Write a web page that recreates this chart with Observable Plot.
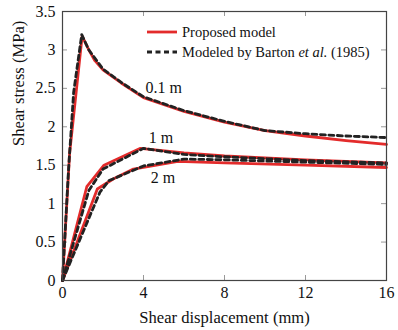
<!DOCTYPE html>
<html><head><meta charset="utf-8">
<script src="https://cdn.jsdelivr.net/npm/d3@7"></script>
<script src="https://cdn.jsdelivr.net/npm/@observablehq/plot@0.6"></script>
<style>
body{margin:0;background:#fff;}
#wrap{position:relative;width:398px;height:330px;font-family:"Liberation Serif",serif;}
.leg{position:absolute;left:147px;height:20px;line-height:20px;font-size:14.5px;color:#111;display:flex;align-items:center;white-space:nowrap;}
.leg svg{margin-right:5px;}
</style></head><body><div id="wrap"></div>
<script>
const xTicks = [0, 4, 8, 12, 16];
const yTicks = [0, 0.5, 1, 1.5, 2, 2.5, 3, 3.5];
const xLabel = "Shear displacement (mm)";
const yLabel = "Shear stress (MPa)";

// Proposed model (red, solid)
const proposed_01m = [[0,0],[0.35,1.65],[0.97,3.18],[1.3,3.0],[1.6,2.86],[2,2.74],[2.9,2.57],[4,2.38],[6,2.2],[8,2.06],[10,1.95],[12,1.88],[14,1.82],[16,1.77]];
const proposed_1m  = [[0,0],[1.2,1.22],[1.5,1.32],[2.05,1.5],[3.85,1.72],[6,1.66],[8,1.62],[12,1.57],[16,1.53]];
const proposed_2m  = [[0,0],[1.72,1.19],[2.5,1.32],[3.5,1.45],[5.7,1.55],[8,1.53],[12,1.5],[16,1.47]];
// Modeled by Barton et al. (1985) (dashed)
const barton_01m = [[0,0],[0.3,1.45],[0.55,2.45],[0.95,3.2],[1.3,3.0],[2,2.75],[3,2.56],[4,2.39],[6,2.21],[8,2.07],[10,1.95],[12,1.91],[14,1.88],[16,1.86]];
const barton_1m  = [[0,0],[1.3,1.17],[2,1.45],[4,1.72],[6,1.64],[8,1.61],[12,1.56],[16,1.53]];
const barton_2m  = [[0,0],[1.85,1.15],[2.3,1.3],[4,1.49],[6,1.58],[8,1.57],[12,1.54],[16,1.51]];

const curveLabels = ["0.1 m", "1 m", "2 m"];
const curveLabelX = [4.1, 4.26, 4.36];
const curveLabelY = [2.5, 1.85, 1.34];

const rows = (pairs, size) => pairs.map(([x, y]) => ({x, y, size}));
const proposed = [...rows(proposed_01m, "0.1 m"), ...rows(proposed_1m, "1 m"), ...rows(proposed_2m, "2 m")];
const barton = [...rows(barton_01m, "0.1 m"), ...rows(barton_1m, "1 m"), ...rows(barton_2m, "2 m")];

const W = 398, H = 330, mL = 62, mR = 12, mT = 11, mB = 50;
const plotH = H - mT - mB, plotW = W - mL - mR, tick = 5;
const RED = "#e32b2b", DARK = "#222";

const chart = Plot.plot({
  width: W, height: H, marginLeft: mL, marginRight: mR, marginTop: mT, marginBottom: mB,
  style: {fontFamily: "Liberation Serif, serif", fontSize: "16px", color: "#111", background: "#fff", overflow: "visible"},
  x: {domain: [0, 16]},
  y: {domain: [0, 3.5]},
  marks: [
    Plot.ruleX(xTicks, {x: d => d, insetTop: plotH - tick, stroke: "#999"}),
    Plot.ruleX(xTicks, {x: d => d, insetBottom: plotH - tick, stroke: "#999"}),
    Plot.ruleY(yTicks, {y: d => d, insetRight: plotW - tick, stroke: "#999"}),
    Plot.ruleY(yTicks, {y: d => d, insetLeft: plotW - tick, stroke: "#999"}),
    Plot.line(proposed, {x: "x", y: "y", z: "size", stroke: RED, strokeWidth: 2.8}),
    Plot.line(barton, {x: "x", y: "y", z: "size", stroke: DARK, strokeWidth: 2.8, strokeDasharray: "5,3.5"}),
    Plot.text(curveLabels, {x: (d, i) => curveLabelX[i], y: (d, i) => curveLabelY[i], text: d => d, textAnchor: "start", lineAnchor: "middle", fill: "#111"}),
    Plot.frame({stroke: "#444", strokeWidth: 1.2}),
    Plot.axisX({ticks: xTicks, tickSize: 0, tickPadding: 6, tickFormat: d => String(d), label: null, fill: "#111"}),
    Plot.axisY({ticks: yTicks, tickSize: 0, tickPadding: 7, tickFormat: d => String(d), label: null, fill: "#111"}),
    Plot.text([xLabel], {text: d => d, frameAnchor: "bottom", dy: 37, lineAnchor: "middle", fill: "#111", fontSize: 16.6}),
    Plot.text([yLabel], {text: d => d, frameAnchor: "left", dx: -44, rotate: -90, lineAnchor: "middle", fill: "#111", fontSize: 16.6})
  ]
});
const wrap = document.getElementById("wrap");
wrap.appendChild(chart);

const legendRows = [
  {html: "Proposed model", stroke: RED, dash: null, top: 22},
  {html: "Modeled by Barton <i>et al.</i> (1985)", stroke: DARK, dash: "5,3.5", top: 42}
];
for (const r of legendRows) {
  const div = document.createElement("div");
  div.className = "leg";
  div.style.top = r.top + "px";
  div.innerHTML = `<svg width="30" height="20"><line x1="0" x2="30" y1="10" y2="10" stroke="${r.stroke}" stroke-width="2.8" ${r.dash ? `stroke-dasharray="${r.dash}"` : ""}/></svg><span>${r.html}</span>`;
  wrap.appendChild(div);
}
</script></body></html>
